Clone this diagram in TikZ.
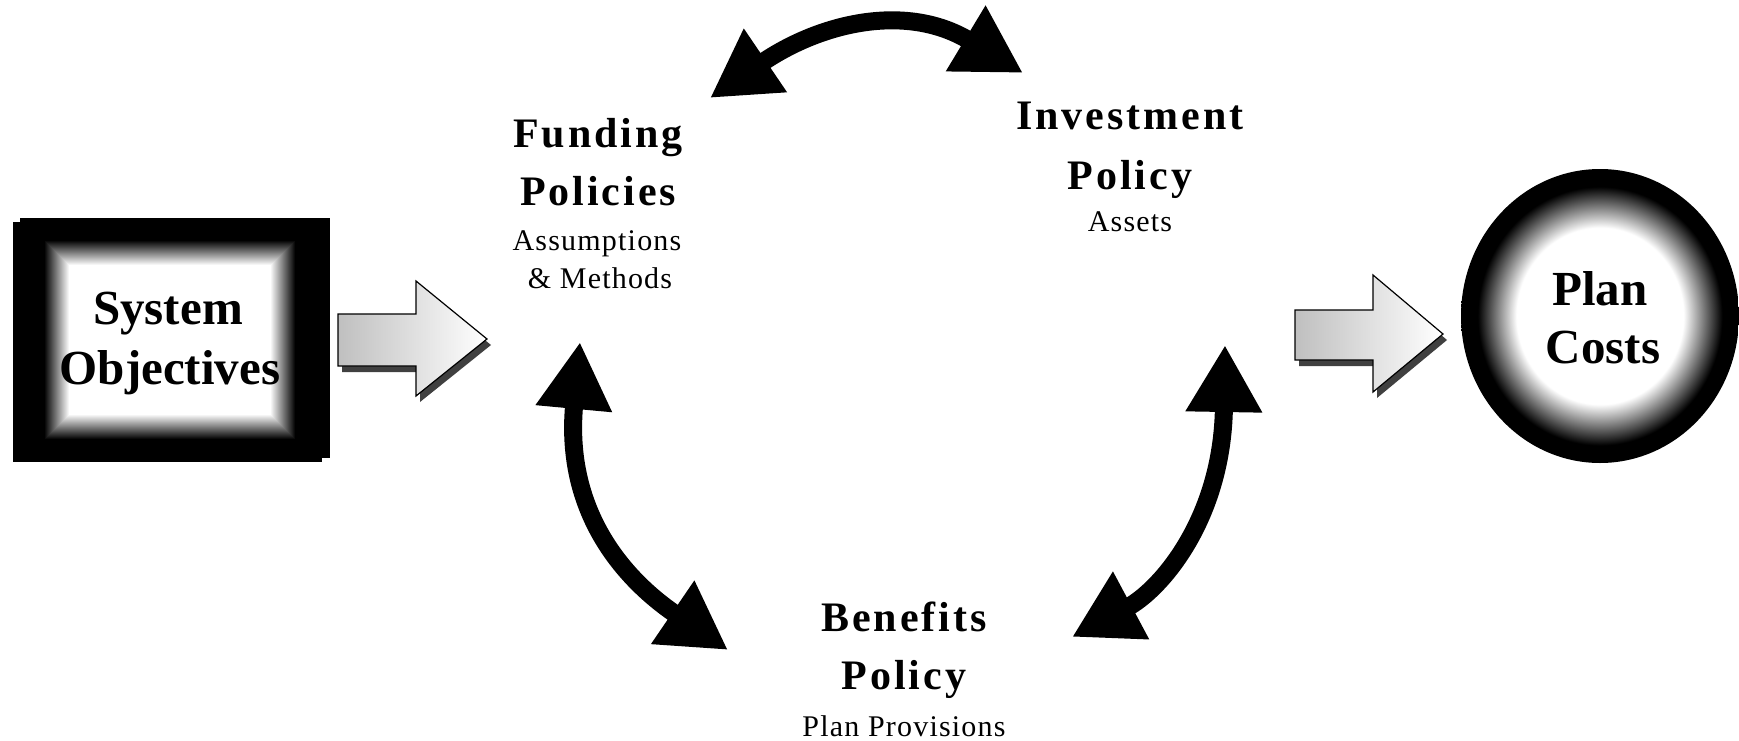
\documentclass[tikz,border=0pt]{standalone}
\usepackage{fontspec}
\setmainfont{Liberation Serif}
\usetikzlibrary{arrows.meta}
\pgfdeclareradialshading{glow}{\pgfpoint{0bp}{0bp}}{color(0bp)=(white); color(15bp)=(white); color(22bp)=(black); color(50bp)=(black)}
\begin{document}
\begin{tikzpicture}[x=1pt,y=-1pt,
  title/.style={font=\fontsize{42}{42}\selectfont\bfseries\addfontfeatures{LetterSpace=7}, anchor=base, inner sep=0pt},
  sub/.style={font=\fontsize{30}{30}\selectfont\addfontfeatures{LetterSpace=4}, anchor=base, inner sep=0pt},
  big/.style={font=\fontsize{49}{49}\selectfont\bfseries, anchor=base, inner sep=0pt},
  dbl/.style={line width=18pt, {Triangle[length=67pt,width=72pt]}-{Triangle[length=67pt,width=72pt]}},
  blockarrow/.style={draw=black, line width=1.2pt, left color=gray!50, right color=white},
  blockshadow/.style={fill=black!75}]
\useasboundingbox (0,0) rectangle (1739,741);
\fill[white] (0,0) rectangle (1739,741);

% System Objectives box
\fill[black] (13,222) rectangle (322,462);
\fill[black] (20,218) rectangle (330,458);
\foreach \i [evaluate=\i as \c using \i*4] in {0,...,25}
  \fill[white!\c!black] (44+\i,240+\i) rectangle (296-\i,440-\i);
\node[big] (sys1) at (168,324) {System};
\node[big] (sys2) at (170,384) {Objectives};

% left block arrow
\fill[blockshadow] (342,320) -- (420,320) -- (420,287) -- (491,345) -- (420,402) -- (420,372) -- (342,372) -- cycle;
\path[blockarrow] (338,314) -- (416,314) -- (416,281) -- (487,339) -- (416,396) -- (416,366) -- (338,366) -- cycle;

% right block arrow
\fill[blockshadow] (1299,316) -- (1377,316) -- (1377,281) -- (1447,340) -- (1377,398) -- (1377,366) -- (1299,366) -- cycle;
\path[blockarrow] (1295,310) -- (1373,310) -- (1373,275) -- (1443,334) -- (1373,392) -- (1373,360) -- (1295,360) -- cycle;

% Plan Costs circle
\shade[shading=glow] (1600,316) ellipse [x radius=139pt, y radius=147pt];
\node[big] (plan1) at (1600,305) {Plan};
\node[big] (plan2) at (1603,363) {Costs};

% Funding Policies
\node[title] (fund1) at (598,147) {Funding};
\node[title] (fund2) at (598,205) {Policies};
\node[sub] (fund3) at (597,250) {Assumptions};
\node[sub] (fund4) at (600,288) {\& Methods};

% Investment Policy
\node[title] (inv1) at (1130,130) {Investment};
\node[title] (inv2) at (1130,189) {Policy};
\node[sub] (inv3) at (1130,231) {Assets};

% Benefits Policy
\node[title] (ben1) at (904,631) {Benefits};
\node[title] (ben2) at (904,689) {Policy};
\node[sub] (ben3) at (904,736) {Plan Provisions};

% curved double arrows
\coordinate (tA) at (710,98);
\coordinate (tB) at (1023,73);
\coordinate (lA) at (580,342);
\coordinate (lB) at (728,650);
\coordinate (rA) at (1225,345);
\coordinate (rB) at (1072,637);
\draw[dbl] (tA) .. controls (822,22) and (907,3) .. (tB);
\draw[dbl] (lA) .. controls (563,525) and (640,590) .. (lB);
\draw[dbl] (rA) .. controls (1222,520) and (1160,590) .. (rB);
\end{tikzpicture}
\end{document}
